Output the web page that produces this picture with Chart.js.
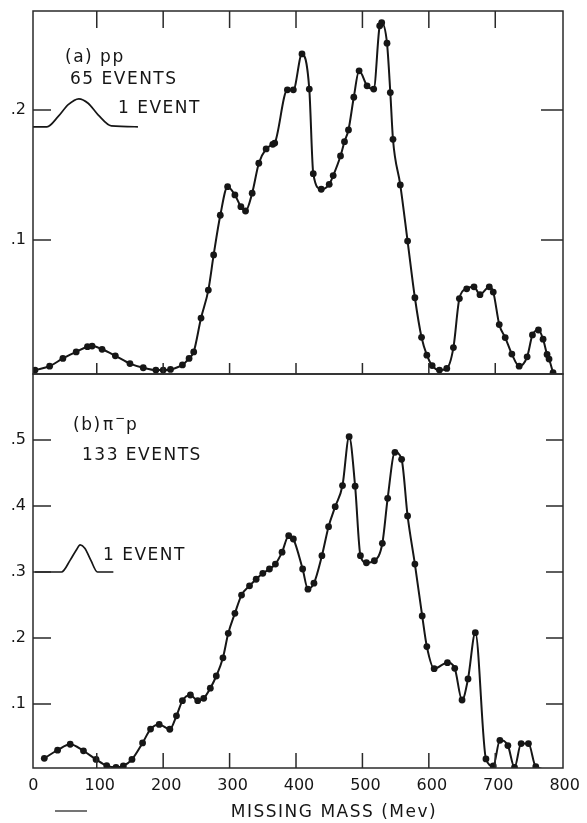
<!DOCTYPE html>
<html>
<head>
<meta charset="utf-8">
<script src="https://cdn.jsdelivr.net/npm/chart.js@4.4.0/dist/chart.umd.min.js"></script>
<style>
  html, body { margin: 0; padding: 0; background: #fff; }
  #wrap { position: relative; width: 587px; height: 823px; }
  canvas { position: absolute; left: 0; }
  #cA { top: 0; }
  #cB { top: 360px; }
</style>
</head>
<body>
<div id="wrap">
  <canvas id="cA" width="587" height="380"></canvas>
  <canvas id="cB" width="587" height="463"></canvas>
</div>
<script>
// (a) pp — missing mass (MeV) and yield
const ppMass = [7, 29, 49, 69, 86, 93, 108, 128, 150, 170, 189, 200, 211, 229, 239, 246, 257, 268, 276, 286,
  297, 308, 317, 324, 334, 344, 355, 365, 368, 387, 396, 409, 420, 426, 438, 450, 456, 467, 473, 479,
  487, 495, 507, 517, 526, 529, 537, 542, 546, 557, 568, 579, 589, 597, 605, 616, 627, 637, 646, 657,
  668, 677, 691, 697, 706, 715, 725, 736, 748, 756, 765, 772, 778, 781, 787];
const ppYield = [0, .003, .009, .014, .018, .0185, .016, .011, .005, .0018, 0, 0, .0005, .004, .009, .014, .040, .0615, .0885, .119,
  .141, .1346, .1256, .1223, .136, .159, .170, .1735, .1745, .2154, .2154, .243, .216, .151, .139, .1428, .1495, .1646, .1756, .1846,
  .2097, .230, .2185, .216, .2646, .267, .2513, .2133, .1774, .1423, .0992, .0556, .0252, .0115, .0035, 0, .0013, .0173, .055, .0625,
  .064, .058, .064, .060, .035, .025, .0123, .003, .0102, .027, .0308, .0238, .012, .0085, -.002];

// (b) pi- p — lower panel
const pimMass = [21, 41, 60, 80, 99, 115, 129, 140, 153, 169, 181, 194, 210, 220, 229, 241, 252, 261, 271, 280,
  290, 298, 308, 318, 330, 340, 350, 360, 369, 379, 389, 396, 410, 418, 427, 439, 449, 459, 470, 480,
  489, 497, 506, 518, 530, 538, 549, 559, 568, 579, 590, 597, 608, 628, 639, 650, 659, 670, 686, 697,
  707, 719, 729, 739, 750, 761, 785];
const pimYield = [.0177, .030, .039, .029, .016, .0065, .004, .006, .016, .041, .062, .069, .0617, .082, .105, .1136, .105, .1086, .124, .1424,
  .170, .207, .2374, .265, .279, .289, .298, .3045, .312, .330, .355, .350, .3045, .274, .283, .3247, .3687, .399, .431, .505,
  .430, .3247, .314, .317, .3435, .4116, .4813, .4707, .385, .312, .2335, .187, .1535, .1626, .154, .106, .138, .208, .0167, .006,
  .045, .037, .004, .040, .040, .005, 0];

// "1 EVENT" resolution sketches
const ppEventMass = [4, 25, 42, 57, 73, 87, 102, 122, 162];
const ppEventYield = [.187, .187, .195, .204, .2085, .2051, .1962, .1877, .187];
const pimEventMass = [7, 47, 60, 69, 75, 82, 91, 101, 125];
const pimEventYield = [.3, .3, .318, .333, .341, .336, .318, .3, .3];

const xTickValues = [0, 100, 200, 300, 400, 500, 600, 700, 800];
const ppYTicks = [0.1, 0.2];
const pimYTicks = [0.1, 0.2, 0.3, 0.4, 0.5];

const INK = '#161616';
Chart.defaults.font.family = '"DejaVu Sans", sans-serif';
Chart.defaults.font.size = 16;
Chart.defaults.color = INK;

const toPoints = (xs, ys) => xs.map((x, i) => ({ x, y: ys[i] }));

// frame, inward tick marks and hand lettering
const framePlugin = {
  id: 'frame',
  afterDraw(chart, args, o) {
    const { ctx, chartArea: a, scales: { x, y } } = chart;
    ctx.save();
    ctx.strokeStyle = '#2a2a2a';
    ctx.lineWidth = 1.5;
    ctx.strokeRect(a.left, a.top, a.right - a.left, a.bottom - a.top);
    ctx.beginPath();
    xTickValues.slice(1, -1).forEach(v => {
      const px = x.getPixelForValue(v);
      if (o.topTick) { ctx.moveTo(px, a.top); ctx.lineTo(px, a.top + o.topTick); }
      ctx.moveTo(px, a.bottom); ctx.lineTo(px, a.bottom - o.bottomTick);
    });
    o.yTicks.forEach(v => {
      const py = y.getPixelForValue(v);
      ctx.moveTo(a.left, py); ctx.lineTo(a.left + o.leftTick, py);
      ctx.moveTo(a.right, py); ctx.lineTo(a.right - o.rightTick, py);
    });
    ctx.stroke();

    ctx.fillStyle = INK;
    (o.texts || []).forEach(t => {
      ctx.letterSpacing = (t.spacing ?? 1.5) + 'px';
      ctx.font = (t.size || 17) + 'px "DejaVu Sans"';
      ctx.textAlign = t.align || 'left';
      ctx.fillText(t.text, t.x, t.y - o.dy);
    });
    if (o.dash) {
      ctx.beginPath();
      ctx.lineWidth = 1.3;
      ctx.moveTo(o.dash[0], o.dash[2] - o.dy);
      ctx.lineTo(o.dash[1], o.dash[2] - o.dy);
      ctx.stroke();
    }
    ctx.restore();
  }
};

function curve(xs, ys, opts) {
  return Object.assign({
    data: toPoints(xs, ys),
    borderColor: INK,
    backgroundColor: INK,
    borderWidth: 2,
    pointRadius: 3.4,
    pointHoverRadius: 3.4,
    pointBorderWidth: 0,
    cubicInterpolationMode: 'monotone',
    fill: false,
  }, opts || {});
}

function yAxis(min, max, ticks) {
  return {
    min, max,
    afterFit: s => { s.width = 33; s.paddingTop = 0; s.paddingBottom = 0; },
    afterBuildTicks: s => { s.ticks = ticks.map(v => ({ value: v })); },
    grid: { display: false, drawTicks: false },
    border: { display: false },
    ticks: { padding: 7, callback: v => '.' + Math.round(v * 10) },
  };
}

// upper panel: (a) pp
new Chart(document.getElementById('cA'), {
  type: 'line',
  data: {
    datasets: [
      curve(ppMass, ppYield),
      curve(ppEventMass, ppEventYield, { pointRadius: 0, borderWidth: 1.7 }),
    ],
  },
  options: {
    responsive: false,
    animation: false,
    events: [],
    layout: { padding: { left: 0, right: 24, top: 11, bottom: 6 } },
    plugins: {
      legend: { display: false },
      tooltip: { enabled: false },
      frame: {
        dy: 0, topTick: 17, bottomTick: 11, leftTick: 18, rightTick: 22, yTicks: ppYTicks,
        texts: [
          { text: '(a) pp', x: 65, y: 62 },
          { text: '65 EVENTS', x: 70, y: 84 },
          { text: '1 EVENT', x: 118, y: 113 },
        ],
      },
    },
    scales: {
      x: { type: 'linear', min: 4, max: 802, display: false },
      y: yAxis(-0.003, 0.276, ppYTicks),
    },
  },
  plugins: [framePlugin],
});

// lower panel: (b) pi- p
const lastPim = pimMass.length - 1;
new Chart(document.getElementById('cB'), {
  type: 'line',
  data: {
    datasets: [
      curve(pimMass, pimYield, { pointRadius: c => (c.dataIndex === lastPim ? 0 : 3.4) }),
      curve(pimEventMass, pimEventYield, { pointRadius: 0, borderWidth: 1.7 }),
    ],
  },
  options: {
    responsive: false,
    animation: false,
    events: [],
    layout: { padding: { left: 0, right: 24, top: 14, bottom: 0 } },
    plugins: {
      legend: { display: false },
      tooltip: { enabled: false },
      frame: {
        dy: 360, topTick: 0, bottomTick: 15, leftTick: 18, rightTick: 17, yTicks: pimYTicks,
        texts: [
          { text: '(b)', x: 73, y: 430 },
          { text: '\u03c0', x: 103, y: 430, spacing: 0 },
          { text: '\u2212', x: 115, y: 422, size: 12, spacing: 0 },
          { text: 'p', x: 126, y: 430, spacing: 0 },
          { text: '133 EVENTS', x: 82, y: 460 },
          { text: '1 EVENT', x: 103, y: 560 },
          { text: 'MISSING MASS (Mev)', x: 334, y: 817, align: 'center' },
        ],
        dash: [55, 87, 811],
      },
    },
    scales: {
      x: {
        type: 'linear', min: 4, max: 802, position: 'bottom',
        afterFit: s => { s.height = 55; },
        afterBuildTicks: s => { s.ticks = xTickValues.map(v => ({ value: v })); },
        grid: { display: false, drawTicks: false },
        border: { display: false },
        ticks: { padding: 8, labelOffset: 3, autoSkip: false, maxRotation: 0, callback: v => String(v) },
      },
      y: yAxis(0.003, 0.6, pimYTicks),
    },
  },
  plugins: [framePlugin],
});
</script>
</body>
</html>
